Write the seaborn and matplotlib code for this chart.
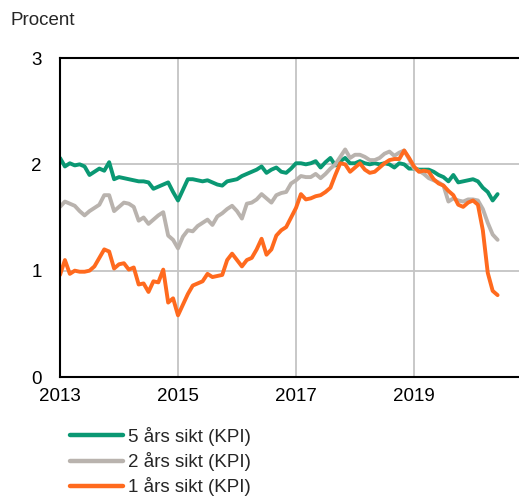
import matplotlib
matplotlib.use("Agg")
from matplotlib import pyplot as plt
import numpy as np
import pandas as pd
import seaborn as sb

# monthly survey values, Jan 2013 - Jun 2020
ars5 = [2.06, 1.98, 2.01, 1.99, 2.00, 1.98, 1.90, 1.93, 1.96, 1.94, 2.02, 1.86,
        1.88, 1.87, 1.86, 1.85, 1.84, 1.84, 1.83, 1.77, 1.79, 1.81, 1.83, 1.74,
        1.66, 1.76, 1.86, 1.86, 1.85, 1.84, 1.85, 1.83, 1.81, 1.80, 1.84, 1.85,
        1.86, 1.89, 1.91, 1.93, 1.95, 1.98, 1.92, 1.95, 1.97, 1.93, 1.92, 1.96,
        2.01, 2.01, 2.00, 2.01, 2.03, 1.97, 2.02, 2.06, 1.99, 2.03, 2.06, 2.01,
        2.01, 2.03, 2.01, 2.00, 2.01, 2.00, 2.01, 2.00, 1.97, 2.01, 2.00, 1.96,
        1.96, 1.95, 1.95, 1.95, 1.93, 1.90, 1.88, 1.84, 1.90, 1.83, 1.84, 1.85,
        1.86, 1.84, 1.78, 1.74, 1.66, 1.72]

ars2 = [1.60, 1.65, 1.63, 1.61, 1.56, 1.52, 1.56, 1.59, 1.62, 1.71, 1.71, 1.56,
        1.60, 1.64, 1.63, 1.60, 1.47, 1.50, 1.44, 1.48, 1.52, 1.55, 1.33, 1.29,
        1.21, 1.32, 1.38, 1.37, 1.42, 1.45, 1.48, 1.43, 1.51, 1.54, 1.58, 1.61,
        1.56, 1.49, 1.63, 1.64, 1.67, 1.72, 1.68, 1.64, 1.71, 1.73, 1.74, 1.82,
        1.85, 1.89, 1.88, 1.88, 1.91, 1.87, 1.91, 1.96, 2.00, 2.07, 2.14, 2.06,
        2.09, 2.09, 2.07, 2.04, 2.04, 2.06, 2.10, 2.12, 2.08, 2.11, 2.13, 2.05,
        1.96, 1.94, 1.91, 1.87, 1.85, 1.83, 1.80, 1.65, 1.68, 1.66, 1.65, 1.67,
        1.67, 1.66, 1.58, 1.45, 1.34, 1.29]

ars1 = [0.96, 1.10, 0.97, 1.00, 0.99, 0.99, 1.00, 1.04, 1.12, 1.20, 1.18, 1.02,
        1.06, 1.07, 1.01, 1.03, 0.87, 0.88, 0.80, 0.90, 0.89, 1.01, 0.70, 0.74,
        0.58, 0.68, 0.78, 0.86, 0.88, 0.90, 0.97, 0.94, 0.95, 0.96, 1.10, 1.16,
        1.10, 1.04, 1.10, 1.12, 1.20, 1.30, 1.15, 1.20, 1.33, 1.38, 1.41, 1.50,
        1.59, 1.72, 1.67, 1.68, 1.70, 1.71, 1.74, 1.78, 1.90, 2.01, 2.00, 1.93,
        1.97, 2.01, 1.95, 1.92, 1.93, 1.97, 2.01, 2.04, 2.05, 2.05, 2.13, 2.06,
        1.98, 1.93, 1.94, 1.93, 1.86, 1.82, 1.80, 1.75, 1.71, 1.62, 1.60, 1.64,
        1.66, 1.62, 1.38, 0.98, 0.81, 0.77]

labels = ["5 års sikt (KPI)", "2 års sikt (KPI)", "1 års sikt (KPI)"]
colors = ["#0A9873", "#B9B3AE", "#FF6A1E"]
year_ticks = [2013, 2015, 2017, 2019]

months = np.arange(len(ars5))
tid = 2013 + months / 12.0

data = pd.DataFrame({"tid": tid, labels[0]: ars5, labels[1]: ars2, labels[2]: ars1})
long = data.melt(id_vars="tid", var_name="serie", value_name="procent")

sb.set_style("white")
plt.rcParams["font.family"] = ["Liberation Sans", "DejaVu Sans"]
fs = 13.5

fig = plt.figure(figsize=(5.19, 4.98), dpi=100)
ax = fig.add_axes([60 / 519, 121 / 498, 459 / 519, 319 / 498])

sb.lineplot(data=long, x="tid", y="procent", hue="serie", hue_order=labels,
            palette=colors, linewidth=2.8, ax=ax, legend=False)

ax.set_xlim(2013, 2013 + 459 / 59)
ax.set_ylim(0, 3)
ax.set_xticks(year_ticks)
ax.set_xticklabels([str(y) for y in year_ticks])
ax.set_yticks([0, 1, 2, 3])
ax.set_xlabel("")
ax.set_ylabel("")
ax.grid(True, color="#C4C4C4", linewidth=1.3)
ax.set_axisbelow(True)
ax.tick_params(axis="both", length=0, labelsize=fs, colors="black")
ax.tick_params(axis="x", pad=8)
ax.tick_params(axis="y", pad=13)
for s in ["left", "bottom", "top"]:
    ax.spines[s].set_color("black")
    ax.spines[s].set_linewidth(1.5)
ax.spines["right"].set_visible(False)

fig.text(10 / 519, 1 - 20 / 498, "Procent", fontsize=fs, va="center", ha="left")

handles = [plt.Line2D([], [], color=c, linewidth=3.2) for c in colors]
fig.legend(handles, labels, loc="upper left", bbox_to_anchor=(70 / 519, 1 - 427 / 498),
           frameon=False, fontsize=fs, handlelength=2.83, handletextpad=0.27,
           labelspacing=0.33, borderaxespad=0, borderpad=0)

fig.savefig("out.png", dpi=100)
